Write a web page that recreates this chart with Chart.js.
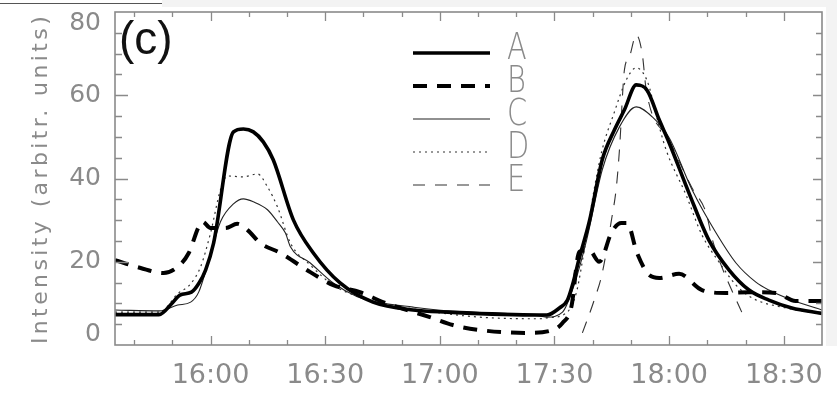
<!DOCTYPE html>
<html>
<head>
<meta charset="utf-8">
<title>Intensity</title>
<script src="https://cdn.jsdelivr.net/npm/chart.js@4/dist/chart.umd.min.js"></script>
<style>
  html, body { margin: 0; padding: 0; background: #fff; }
</style>
</head>
<body>
<canvas id="chart-intensity" width="837" height="394"></canvas>
<script>
// times are minutes after midnight, intensities in arbitrary units
var seriesNames = ["A", "B", "C", "D", "E"];

var timeA = [935, 946.5, 950, 952, 955, 957, 958.7, 960.8, 966, 968.6, 971.2, 973.8, 976.4, 981.7, 986.9, 993.9, 1002.5, 1013, 1022, 1046,
             1048, 1051.3, 1053.4, 1054.7, 1056.5, 1059.1, 1062.5, 1065.7, 1068.3, 1071.4, 1074.3, 1077.4, 1080, 1085.2, 1090.4, 1095.7, 1100.9, 1106.1, 1112.1, 1120];
var valA  = [7.3, 7.3, 10.1, 12.0, 12.7, 14.9, 18.0, 24.5, 51.2, 51.9, 51.2, 48.8, 44.5, 30.0, 22.1, 14.9, 10.3, 8.4, 7.9, 7.2,
             7.2, 8.9, 10.8, 14.4, 20.9, 29.6, 44.5, 51.7, 56.5, 62.5, 61.1, 54.1, 48.6, 36.5, 25.2, 18.0, 13.2, 10.8, 8.9, 7.6];

var timeB = [935, 941.7, 947.7, 951.4, 954.3, 956.9, 957.9, 960, 963.9, 967, 969.7, 973, 978.3, 986.1, 992.1, 999.1, 1005.1, 1009.6, 1017.4, 1023.4,
             1030.4, 1042.7, 1049.5, 1052.1, 1054.4, 1056.5, 1059.1, 1061.7, 1065, 1067.5, 1069, 1071.6, 1074.8, 1077.4, 1082.6, 1088.6, 1094.9, 1100.9, 1107.9, 1113.1, 1120];
var valB  = [20.4, 18.5, 17.3, 18.8, 22.1, 28.4, 29.6, 28.1, 28.1, 29.1, 27.6, 24.5, 22.1, 17.5, 14.4, 12.7, 10.3, 8.9, 6.7, 4.8,
             3.6, 2.9, 3.6, 5.3, 9.1, 22.4, 22.8, 20.0, 27.2, 29.3, 29.3, 22.1, 16.8, 16.1, 17.1, 13.2, 12.5, 12.7, 12.5, 10.6, 10.6];

var timeC = [935, 946.7, 951.4, 954.8, 956.9, 959.2, 962.6, 966, 968.6, 971.2, 974.9, 977.5, 979.6, 980.9, 986.1, 992.1, 998.4, 1003.6, 1013, 1021.8,
             1046, 1048, 1052.1, 1054.7, 1058.4, 1062.5, 1067, 1071.4, 1075.6, 1080, 1086, 1092.3, 1097.5, 1102.7, 1106.1, 1112.1, 1120];
var valC  = [8.4, 8.2, 9.6, 10.3, 12.7, 19.2, 29.6, 33.9, 35.1, 34.4, 32.5, 29.6, 26.9, 23.6, 19.7, 14.9, 11.6, 10.3, 9.1, 8.2,
             7.0, 6.7, 7.9, 13.2, 25.2, 42.1, 52.4, 57.2, 54.8, 49.8, 37.3, 26.9, 19.7, 15.1, 13.2, 10.8, 8.4];

var timeD = [935, 946.7, 951.4, 954.8, 957.4, 960, 962.6, 964.4, 968.6, 972.3, 974.9, 977.5, 980.9, 986.1, 992.1, 999.1, 1013, 1030.4, 1046, 1048,
             1053.1, 1055.7, 1058, 1060.5, 1062.5, 1065.5, 1068.8, 1071.4, 1073.5, 1074.8, 1076.6, 1079.2, 1084.4, 1088.6, 1093, 1097.5, 1101.7, 1110.5, 1120];
var valD  = [7.9, 7.9, 12.3, 14.7, 18.8, 26.9, 37.3, 40.6, 40.4, 41.1, 38.0, 33.2, 24.5, 19.2, 14.4, 11.5, 8.7, 6.7, 6.3, 6.5,
             7.7, 12.5, 24.0, 38.0, 47.0, 55.5, 63.7, 66.6, 64.9, 62.0, 55.3, 46.9, 36.1, 26.4, 20.0, 14.4, 11.3, 8.9, 7.5];

var timeE = [1057.3, 1060.4, 1062.5, 1064.9, 1066.2, 1067, 1068.3, 1069.6, 1071.4, 1073, 1074, 1080, 1086, 1089.7, 1091.2, 1093.6, 1099];
var valE  = [2.9, 10.8, 17.3, 30.0, 38.0, 46.9, 66.1, 69.2, 74.5, 69.7, 61.3, 49.3, 37.7, 31.7, 25.7, 19.2, 7.9];

var xTickValues = [960, 990, 1020, 1050, 1080, 1110];
var xTickLabels = ["16:00", "16:30", "17:00", "17:30", "18:00", "18:30"];
var yTickValues = [0, 20, 40, 60, 80];

var axisTitle = "Intensity (arbitr. units)";
var panelLabel = "(c)";

function points(t, v) {
	return t.map(function(m, i) { return {x: m, y: v[i]}; });
}

var grey = "#8a8a8a";

// frame with inward ticks on all four sides, panel label, legend, axis title
var framePlugin = {
	id: "frame",
	beforeDraw: function(chart) {
		var ctx = chart.ctx;
		ctx.save();
		ctx.fillStyle = "#f3f3f3";
		ctx.fillRect(162, 0, 675, 7);
		ctx.fillRect(826, 0, 11, 346);
		ctx.strokeStyle = "#555";
		ctx.lineWidth = 1.2;
		ctx.beginPath();
		ctx.moveTo(0, 3.5);
		ctx.lineTo(162, 3.5);
		ctx.stroke();
		ctx.restore();
	},
	afterDraw: function(chart) {
		var ctx = chart.ctx, a = chart.chartArea;
		var xs = chart.scales.x, ys = chart.scales.y;
		ctx.save();
		ctx.strokeStyle = grey;
		ctx.lineWidth = 1.6;
		ctx.strokeRect(a.left, a.top, a.right - a.left, a.bottom - a.top);

		ctx.lineWidth = 1.3;
		ctx.beginPath();
		for (var m = 940; m < xs.max; m += 10) {
			var px = Math.round(xs.getPixelForValue(m)) + 0.5;
			var len = m % 30 === 0 ? 9 : 5;
			ctx.moveTo(px, a.bottom); ctx.lineTo(px, a.bottom - len);
			ctx.moveTo(px, a.top); ctx.lineTo(px, a.top + len);
		}
		for (var v = 5; v < ys.max; v += 5) {
			var py = Math.round(ys.getPixelForValue(v)) + 0.5;
			var major = v % 20 === 0;
			ctx.moveTo(a.left, py); ctx.lineTo(a.left + (major ? 13 : 7), py);
			ctx.moveTo(a.right, py); ctx.lineTo(a.right - (major ? 9 : 6), py);
		}
		ctx.stroke();

		// panel label
		ctx.fillStyle = "#111";
		ctx.font = "46px 'Liberation Sans'";
		ctx.textAlign = "left";
		ctx.textBaseline = "alphabetic";
		ctx.fillText(panelLabel, 119, 54);

		// legend, using each dataset's own line style
		chart.data.datasets.forEach(function(ds, i) {
			var y = 53 + i * 33;
			ctx.save();
			ctx.strokeStyle = ds.borderColor;
			ctx.lineWidth = ds.borderWidth;
			ctx.setLineDash(ds.borderDash || []);
			ctx.beginPath();
			ctx.moveTo(413, y);
			ctx.lineTo(490, y);
			ctx.stroke();
			ctx.translate(507, y - 4);
			ctx.scale(0.78, 1);
			ctx.fillStyle = grey;
			ctx.font = "200 37px 'DejaVu Sans'";
			ctx.textBaseline = "middle";
			ctx.fillText(ds.label, 0, 0);
			ctx.restore();
		});

		// y axis title
		ctx.translate(41, (a.top + a.bottom) / 2);
		ctx.rotate(-Math.PI / 2);
		ctx.fillStyle = grey;
		ctx.font = "22px 'DejaVu Sans'";
		ctx.letterSpacing = "3.4px";
		ctx.textAlign = "center";
		ctx.textBaseline = "middle";
		ctx.fillText(axisTitle, 0, 0);
		ctx.restore();
	}
};

var ctxIntensity = document.getElementById("chart-intensity").getContext("2d");
var chartIntensity = new Chart(ctxIntensity, {
	type: "line",

	data: {
		datasets: [
			{ label: seriesNames[0], data: points(timeA, valA), borderColor: "#000", borderWidth: 3.6 },
			{ label: seriesNames[1], data: points(timeB, valB), borderColor: "#000", borderWidth: 4, borderDash: [14, 10] },
			{ label: seriesNames[2], data: points(timeC, valC), borderColor: "#222", borderWidth: 1.1 },
			{ label: seriesNames[3], data: points(timeD, valD), borderColor: "#333", borderWidth: 1.2, borderDash: [2, 4] },
			{ label: seriesNames[4], data: points(timeE, valE), borderColor: "#333", borderWidth: 1.1, borderDash: [12, 10] }
		]
	},

	options: {
		responsive: false,
		animation: false,
		layout: { padding: { top: 12, right: 15, left: 0, bottom: 0 } },
		elements: {
			point: { radius: 0 },
			line: { cubicInterpolationMode: "monotone", fill: false }
		},
		plugins: {
			legend: { display: false },
			tooltip: { enabled: false }
		},
		scales: {
			x: {
				type: "linear",
				min: 935,
				max: 1120,
				grid: { display: false, drawTicks: false },
				border: { display: false },
				afterBuildTicks: function(s) {
					s.ticks = xTickValues.map(function(v) { return {value: v}; });
				},
				afterFit: function(s) {
					s.height = 49;
					s.paddingLeft = 0;
					s.paddingRight = 0;
				},
				ticks: {
					padding: 15,
					color: grey,
					font: { family: "'DejaVu Sans'", size: 27 },
					maxRotation: 0,
					callback: function(v) { return xTickLabels[xTickValues.indexOf(v)]; }
				}
			},
			y: {
				min: 0,
				max: 80,
				grid: { display: false, drawTicks: false },
				border: { display: false },
				afterBuildTicks: function(s) {
					s.ticks = yTickValues.map(function(v) { return {value: v}; });
				},
				afterFit: function(s) {
					s.width = 115;
					s.paddingTop = 0;
					s.paddingBottom = 0;
				},
				ticks: {
					padding: 14,
					color: grey,
					font: { family: "'DejaVu Sans'", size: 25, lineHeight: 0.88 },
					// end labels sit just inside the frame
					callback: function(v) {
						if (v === 80) return ["", "80"];
						if (v === 0) return ["0", ""];
						return String(v);
					}
				}
			}
		}
	},
	plugins: [framePlugin]
});
</script>
</body>
</html>
